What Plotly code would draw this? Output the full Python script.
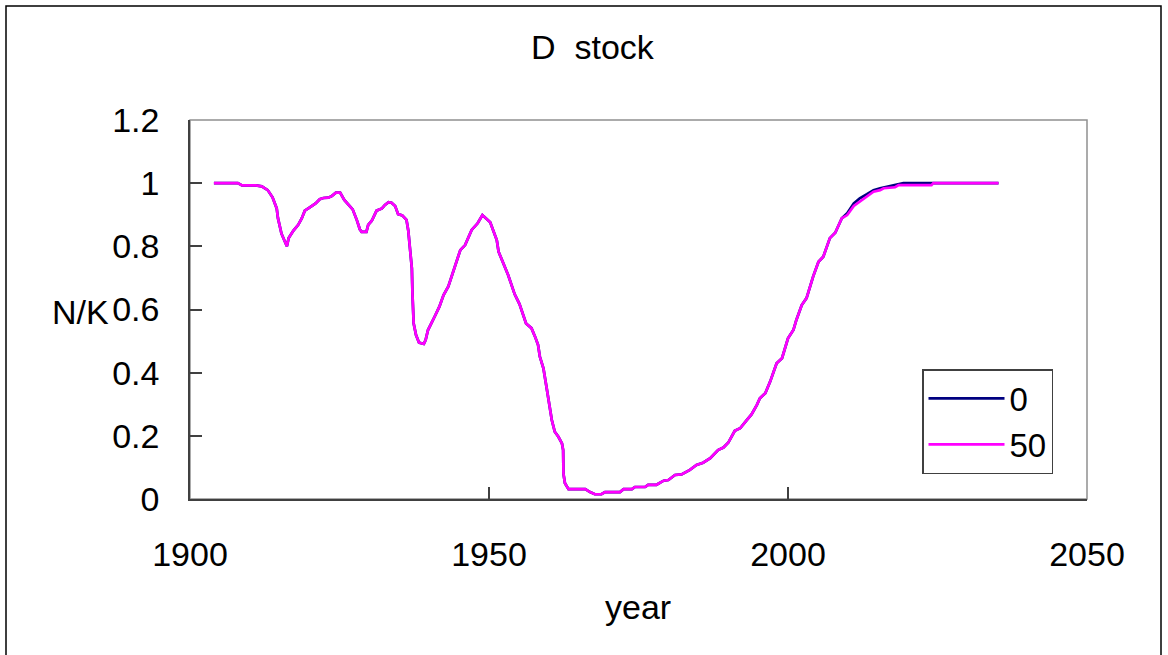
import plotly.graph_objects as go

# ---- data ----
year_common = [1904, 1906, 1908, 1908.7, 1911, 1912, 1913, 1913.8, 1914.5, 1914.7, 1915.3, 1916.2,
               1916.5, 1917.3, 1918.1, 1918.7, 1919.2, 1920.1, 1921, 1921.7, 1922.3, 1923.1, 1923.7,
               1924.4, 1925.1, 1925.8, 1926.5, 1927.2, 1927.9, 1928.4, 1928.7, 1929.5, 1929.8, 1930.4,
               1931.2, 1932.1, 1932.6, 1933.2, 1933.7, 1934.3, 1934.8, 1935.5, 1936.2, 1936.5, 1936.8,
               1937.1, 1937.2, 1937.4, 1937.8, 1938.3, 1939.1, 1939.4, 1939.8, 1940.4, 1940.9, 1941.7,
               1942.4, 1943.2, 1944.0, 1945.2, 1946.0, 1947.1, 1948.1, 1948.9, 1950.2, 1951.3, 1951.6,
               1952.4, 1953.2, 1954.3, 1955.1, 1956.2, 1957.1, 1957.7, 1958.2, 1958.5, 1959.1, 1959.6,
               1960.2, 1960.5, 1961.0, 1961.6, 1962.2, 1962.4, 1962.45, 1962.7, 1963.3, 1966.1, 1966.9,
               1967.7, 1968.8, 1969.4, 1971.9, 1972.5, 1973.9, 1974.4, 1976.1, 1976.6, 1978.0, 1979.2,
               1980.0, 1981.1, 1982.2, 1983.6, 1984.7, 1985.8, 1987.0, 1988.3, 1989.2, 1990.0, 1991.1,
               1992.0, 1993.1, 1993.9, 1994.8, 1995.3, 1996.2, 1997.0, 1998.1, 1999.0, 2000.0, 2000.9,
               2001.4, 2002.3, 2003.1, 2004.2, 2005.1, 2005.9, 2007.0, 2007.9, 2009.0]
nk_common = [1.0, 1.0, 1.0, 0.993, 0.993, 0.99, 0.978, 0.955, 0.92, 0.89, 0.84, 0.80,
             0.826, 0.85, 0.868, 0.889, 0.913, 0.924, 0.936, 0.949, 0.953, 0.954, 0.959,
             0.970, 0.970, 0.947, 0.931, 0.917, 0.883, 0.854, 0.846, 0.846, 0.868, 0.881,
             0.913, 0.920, 0.931, 0.940, 0.938, 0.928, 0.902, 0.898, 0.884, 0.85, 0.79,
             0.73, 0.65, 0.556, 0.519, 0.495, 0.491, 0.503, 0.535, 0.561, 0.577, 0.609,
             0.646, 0.673, 0.720, 0.788, 0.804, 0.852, 0.873, 0.899, 0.876, 0.820, 0.783,
             0.746, 0.709, 0.648, 0.617, 0.556, 0.541, 0.514, 0.488, 0.451, 0.414, 0.356,
             0.292, 0.250, 0.213, 0.197, 0.176, 0.155, 0.08, 0.05, 0.031, 0.031, 0.022,
             0.015, 0.015, 0.022, 0.022, 0.031, 0.031, 0.038, 0.038, 0.045, 0.045, 0.058,
             0.060, 0.076, 0.078, 0.092, 0.108, 0.115, 0.129, 0.155, 0.163, 0.178, 0.216,
             0.224, 0.250, 0.268, 0.298, 0.319, 0.335, 0.371, 0.430, 0.446, 0.509, 0.535,
             0.567, 0.614, 0.636, 0.704, 0.751, 0.767, 0.826, 0.843, 0.889]

year_tail_0 = [2009.9, 2011.0, 2012.0, 2013.2, 2014.3, 2015.4, 2017.3, 2019.3, 2035.2]
nk_tail_0 = [0.905, 0.936, 0.952, 0.965, 0.978, 0.984, 0.992, 1.0, 1.0]

year_tail_50 = [2009.9, 2011.0, 2012.0, 2013.2, 2014.3, 2015.4, 2016.0, 2017.9, 2018.5, 2024.0, 2024.3, 2035.2]
nk_tail_50 = [0.899, 0.928, 0.942, 0.959, 0.973, 0.978, 0.984, 0.987, 0.994, 0.994, 1.0, 1.0]

series_names = ["0", "50"]
series_colors = ["#000080", "#FF00FF"]

x_ticks = [1900, 1950, 2000, 2050]
y_ticks = [0, 0.2, 0.4, 0.6, 0.8, 1.0, 1.2]

# ---- figure ----
W, H = 1168, 655
L, R, T, B = 190, 1087, 120, 499
FONT = "Liberation Sans, Arial, sans-serif"
FS = 34

fig = go.Figure()
fig.add_trace(go.Scatter(x=year_common + year_tail_0, y=nk_common + nk_tail_0, mode="lines",
                         name=series_names[0], line=dict(color=series_colors[0], width=2.7)))
fig.add_trace(go.Scatter(x=year_common + year_tail_50, y=nk_common + nk_tail_50, mode="lines",
                         name=series_names[1], line=dict(color=series_colors[1], width=2.7)))

pw, ph = R - L, B - T
def px(xp):
    return (xp - L) / pw
def py(yp):
    return (B - yp) / ph

fig.update_layout(
    width=W, height=H,
    margin=dict(l=L, r=W - R, t=T, b=H - B, autoexpand=False),
    paper_bgcolor="white", plot_bgcolor="white",
    font=dict(family=FONT, size=FS, color="black"),
    showlegend=True,
    legend=dict(x=px(922), y=py(369), xanchor="left", yanchor="top",
                bordercolor="#404040", borderwidth=1.5, bgcolor="white",
                font=dict(size=33), itemwidth=76, traceorder="normal"),
    xaxis=dict(range=[1900, 2050], tickvals=x_ticks, ticktext=[str(v) for v in x_ticks],
               ticks="inside", ticklen=12, tickwidth=1.5, tickcolor="#404040",
               showline=True, linecolor="#404040", linewidth=1.5, showgrid=False, zeroline=False,
               ticklabelstandoff=24),
    yaxis=dict(range=[0, 1.2], tickvals=y_ticks, ticktext=["0", "0.2", "0.4", "0.6", "0.8", "1", "1.2"],
               ticks="inside", ticklen=12, tickwidth=1.5, tickcolor="#404040",
               showline=True, linecolor="#404040", linewidth=1.5, showgrid=False, zeroline=False,
               ticklabelstandoff=22),
    shapes=[
        dict(type="rect", xref="paper", yref="paper", x0=0, x1=1, y0=0, y1=1,
             line=dict(color="#909090", width=1.5), layer="below"),
        dict(type="rect", xref="paper", yref="paper", x0=px(6), x1=px(1161), y0=py(6), y1=py(662),
             line=dict(color="black", width=1.5), layer="below"),
    ],
    annotations=[
        dict(text="D  stock", x=px(593), y=py(47), xref="paper", yref="paper",
             showarrow=False, xanchor="center", yanchor="middle", font=dict(size=FS)),
        dict(text="year", x=px(638), y=py(607), xref="paper", yref="paper",
             showarrow=False, xanchor="center", yanchor="middle", font=dict(size=FS)),
        dict(text="N/K", x=px(111), y=py(312), xref="paper", yref="paper",
             showarrow=False, xanchor="right", yanchor="middle", font=dict(size=FS)),
    ],
)

fig.write_html("out.html", config={"displayModeBar": False},
               post_script="document.body.style.margin='0';document.body.style.padding='0';")
